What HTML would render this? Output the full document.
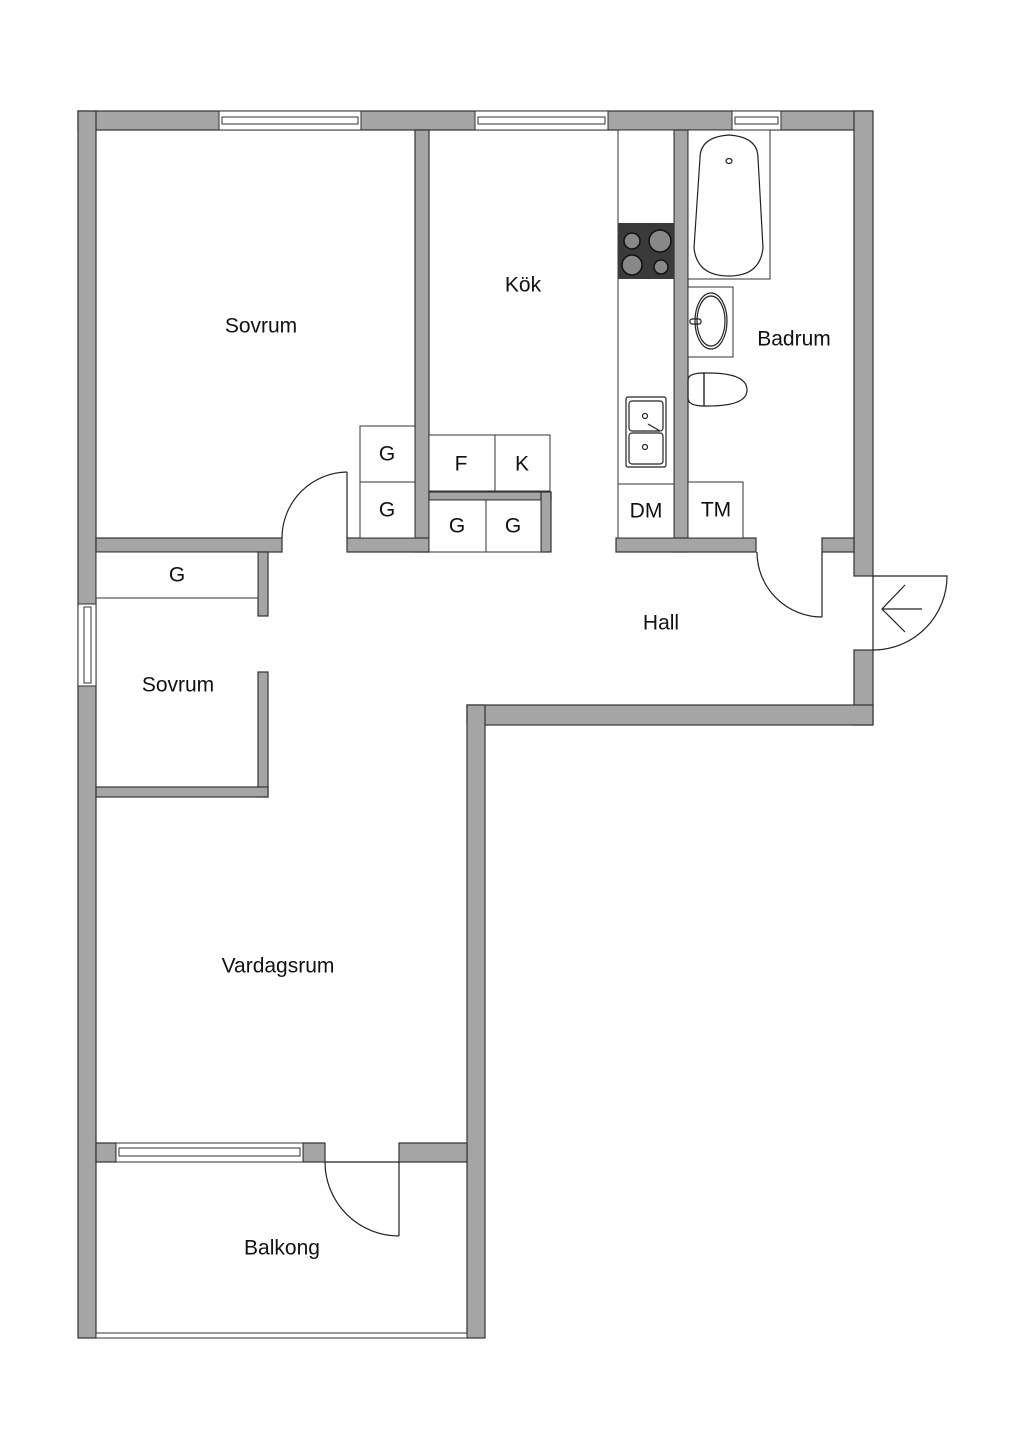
<!DOCTYPE html>
<html><head><meta charset="utf-8"><style>
html,body{margin:0;padding:0;background:#fff}
svg{display:block}
text{font-family:"Liberation Sans",sans-serif;fill:#111;text-anchor:middle;dominant-baseline:central}
</style></head><body>
<svg width="1024" height="1448" viewBox="0 0 1024 1448" xmlns="http://www.w3.org/2000/svg">
<g fill="#a5a5a5" stroke="#333" stroke-width="1.2">
<!-- outer walls -->
<rect x="78" y="111" width="794" height="19"/>
<rect x="78" y="111" width="18" height="1227"/>
<rect x="854" y="111" width="19" height="465"/>
<rect x="854" y="650" width="19" height="75"/>
<rect x="467" y="705" width="406" height="20"/>
<rect x="467" y="705" width="18" height="633"/>
<!-- interior -->
<rect x="415" y="130" width="14" height="422"/>
<rect x="96" y="538" width="186" height="14"/>
<rect x="347" y="538" width="82" height="14"/>
<rect x="429" y="492" width="122" height="8"/>
<rect x="541" y="492" width="10" height="60"/>
<rect x="674" y="130" width="14" height="422"/>
<rect x="616" y="538" width="140" height="14"/>
<rect x="822" y="538" width="32" height="14"/>
<rect x="258" y="552" width="10" height="64"/>
<rect x="258" y="672" width="10" height="125"/>
<rect x="96" y="787" width="172" height="10"/>
<rect x="96" y="1143" width="20" height="19"/>
<rect x="303" y="1143" width="22" height="19"/>
<rect x="399" y="1143" width="68" height="19"/>
</g>
<g fill="#fff" stroke="#333" stroke-width="1">
<!-- windows -->
<rect x="219" y="111" width="142" height="19"/><rect x="222" y="117" width="136" height="7"/>
<rect x="475" y="111" width="133" height="19"/><rect x="478" y="117" width="127" height="7"/>
<rect x="732" y="111" width="49" height="19"/><rect x="735" y="117" width="43" height="7"/>
<rect x="78" y="604" width="18" height="82"/><rect x="84" y="607" width="7" height="76"/>
<rect x="116" y="1143" width="187" height="19"/><rect x="119" y="1148" width="181" height="8"/>
<!-- cabinets -->
<rect x="360" y="426" width="55" height="56"/><rect x="360" y="482" width="55" height="56"/>
<rect x="429" y="435" width="66" height="56"/><rect x="495" y="435" width="55" height="56"/>
<rect x="429" y="500" width="57" height="52"/><rect x="486" y="500" width="55" height="52"/>
<rect x="96" y="552" width="162" height="46"/>
<rect x="618" y="130" width="56" height="408"/>
<rect x="618" y="484" width="56" height="54"/>
<rect x="688" y="482" width="55" height="56"/>
<rect x="688" y="130" width="82" height="149"/>
<rect x="688" y="287" width="45" height="70"/>
<rect x="96" y="1333" width="371" height="5"/>
</g>
<!-- stove -->
<rect x="618" y="223" width="56" height="56" fill="#3a3a3a"/>
<g fill="#888" stroke="#111" stroke-width="1.5">
<circle cx="632" cy="241" r="8"/><circle cx="660" cy="241" r="11"/>
<circle cx="632" cy="265" r="10"/><circle cx="661" cy="267" r="7"/>
</g>
<g fill="none" stroke="#222" stroke-width="1.2">
<!-- sink -->
<rect x="626" y="397" width="40" height="70" rx="2"/>
<rect x="629" y="401" width="34" height="30" rx="3"/>
<rect x="629" y="433" width="34" height="31" rx="3"/>
<circle cx="645" cy="416" r="2.5"/><circle cx="645" cy="447" r="2.5"/>
<line x1="648" y1="424" x2="660" y2="431"/>
<!-- tub -->
<path d="M700 158 Q700 137 729 135 Q758 137 758 158 L763 248 Q760 276 729 276 Q697 276 694 248 Z"/>
<ellipse cx="729" cy="161" rx="3" ry="2.5"/>
<!-- basin -->
<ellipse cx="711" cy="321" rx="16" ry="28"/><ellipse cx="711" cy="321" rx="14" ry="25"/>
<rect x="690" y="319" width="11" height="5" rx="2"/>
<!-- toilet -->
<path d="M704 373 L704 406 L708 406 Q747 406 747 390 Q747 373 708 373 Z"/>
<path d="M688 380 Q688 373 704 373 L704 406 Q688 406 688 398 Z"/>
<!-- doors -->
<line x1="347" y1="472" x2="347" y2="538"/>
<path d="M347 472 A66 66 0 0 0 282 538"/>
<line x1="822" y1="552" x2="822" y2="617"/>
<path d="M757 552 A65 65 0 0 0 822 617"/>
<line x1="873" y1="576" x2="873" y2="650"/>
<path d="M873 576 L947 576 A74 74 0 0 1 873 650"/>
<line x1="882" y1="609" x2="922" y2="609"/>
<polyline points="905,585 882,609 905,632"/>
<line x1="325" y1="1162" x2="399" y2="1162"/>
<line x1="399" y1="1162" x2="399" y2="1236"/>
<path d="M325 1162 A74 74 0 0 0 399 1236"/>
</g>
<g font-size="21">
<text x="261" y="326">Sovrum</text>
<text x="523" y="285">Kök</text>
<text x="794" y="339">Badrum</text>
<text x="661" y="623">Hall</text>
<text x="178" y="685">Sovrum</text>
<text x="278" y="966">Vardagsrum</text>
<text x="282" y="1248">Balkong</text>
<text x="387" y="454">G</text><text x="387" y="510">G</text>
<text x="461" y="464">F</text><text x="522" y="464">K</text>
<text x="457" y="526">G</text><text x="513" y="526">G</text>
<text x="646" y="511">DM</text><text x="716" y="510">TM</text>
<text x="177" y="575">G</text>
</g>
</svg>
</body></html>
